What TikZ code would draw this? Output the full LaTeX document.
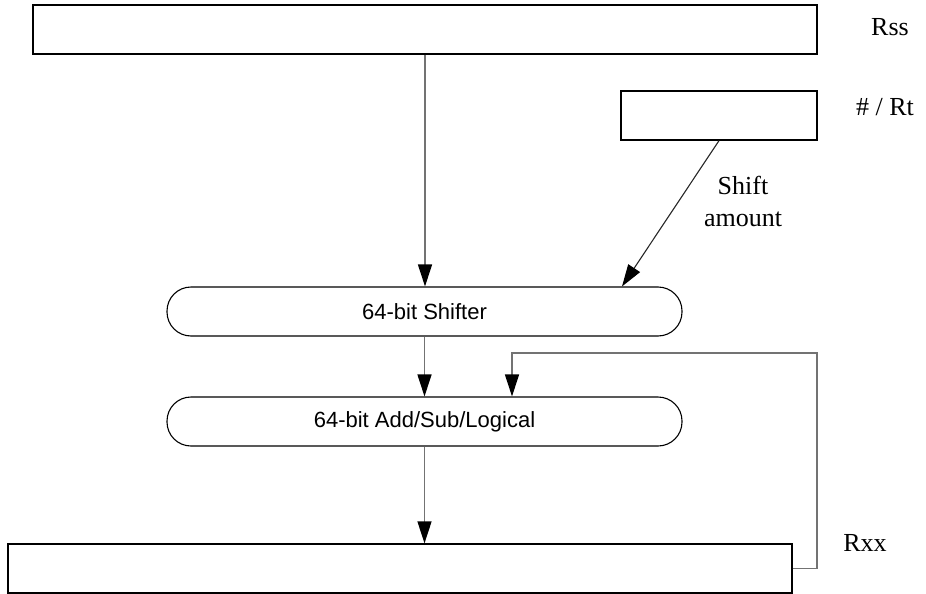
\documentclass[tikz,border=0pt]{standalone}
\usepackage{fontspec}
\setmainfont{Liberation Serif}
\newfontfamily\arialfont{Liberation Sans}
\usetikzlibrary{arrows.meta,calc}
\begin{document}
\begin{tikzpicture}[x=1pt,y=-1pt,
  regbox/.style={draw=black,line width=1.3pt,inner sep=0pt,minimum height=49pt},
  alubox/.style={draw=black,line width=1.1pt,inner sep=0pt,minimum height=49pt,minimum width=515pt,rounded corners=24pt,font=\arialfont\fontsize{22}{26}\selectfont},
  lbl/.style={font=\fontsize{26}{32}\selectfont,inner sep=0pt,align=center},
  conn/.style={draw=black!55,line width=1.3pt,-{Triangle[length=22pt,width=14pt,black]}},
  darkconn/.style={conn,draw=black!85,line width=1.1pt}]
\useasboundingbox (0,0) rectangle (926,594);
\node[regbox,minimum width=784pt] (rss) at (425,29.5) {};
\node[regbox,minimum width=196pt] (rt) at (719,115.5) {};
\node[alubox] (shift) at (424.5,311.5) {64-bit Shifter};
\node[alubox] (add) at (424.5,421.5) {64-bit Add/Sub/Logical};
\node[regbox,minimum width=784pt] (rxx) at (400,568.5) {};
\node[lbl] (lrss) at (890,27) {Rss};
\node[lbl] (lrt) at (885,107) {\# / Rt};
\node[lbl] (lsa) at (743,201) {Shift\\amount};
\node[lbl] (lrxx) at (865,543) {Rxx};
\coordinate (fb1) at (817,568.5);
\coordinate (fb2) at (817,353);
\coordinate (fb3) at (512,353);
\draw[conn] (rss.south) -- (rss.south |- shift.north);
\draw[darkconn] (rt.south) -- ([xshift=197.5pt]shift.north);
\draw[conn] (shift.south) -- (add.north);
\draw[conn] (add.south) -- (add.south |- rxx.north);
\draw[conn] (rxx.east) -- (fb1) -- (fb2) -- (fb3) -- (fb3 |- add.north);
\end{tikzpicture}
\end{document}
